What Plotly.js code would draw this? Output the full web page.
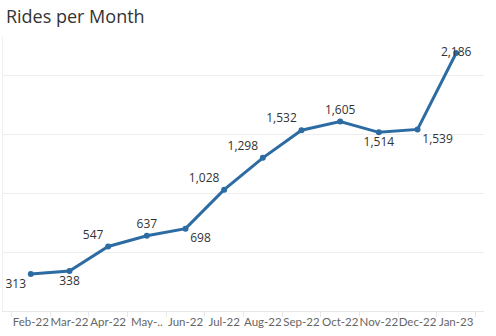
<!DOCTYPE html>
<html><head><meta charset="utf-8">
<script src="https://cdn.plot.ly/plotly-3.0.1.min.js"></script>
<style>html,body{margin:0;padding:0;background:#fff}#c{width:496px;height:336px}</style>
</head><body><div id="c"></div>
<script>
const months = ["Feb-22","Mar-22","Apr-22","May-..","Jun-22","Jul-22","Aug-22","Sep-22","Oct-22","Nov-22","Dec-22","Jan-23"];
const rides = [313,338,547,637,698,1028,1298,1532,1605,1514,1539,2186];
const labelPos = ["bottom left","bottom center","top left","top center","bottom right","top left","top left","top left","top center","bottom center","bottom right","middle center"];

const trace = {
  x: months, y: rides, type: "scatter", mode: "lines+markers+text",
  text: rides.map(v => v.toLocaleString("en-US")),
  textposition: labelPos,
  textfont: {family: "Open Sans, sans-serif", size: 12, color: "#333"},
  line: {color: "#2d6ca2", width: 3},
  marker: {color: "#2d6ca2", size: 6},
  cliponaxis: false, hoverinfo: "none"
};
const layout = {
  width: 496, height: 336,
  margin: {l: 3, r: 12, t: 37, b: 25},
  paper_bgcolor: "#fff", plot_bgcolor: "#fff",
  title: {text: "Rides per Month", x: 0.012, xanchor: "left", y: 0.968, yanchor: "top",
          font: {family: "Open Sans, sans-serif", size: 18, color: "#333"}},
  showlegend: false,
  xaxis: {type: "category", tickson: "boundaries", ticks: "outside", ticklen: 5, tickcolor: "#e8e8e8",
          tickangle: 0, automargin: false,
          showgrid: false, showline: true, linecolor: "#e8e8e8", linewidth: 1,
          tickfont: {family: "Lato, sans-serif", size: 11.5, color: "#666"}, fixedrange: true},
  yaxis: {range: [0, 2322], showticklabels: false, ticks: "", dtick: 500, showgrid: true,
          gridcolor: "#eeeeee", zeroline: false, showline: true, linecolor: "#f0f0f0", fixedrange: true}
};
Plotly.newPlot("c", [trace], layout, {displayModeBar: false, staticPlot: true});
</script></body></html>
